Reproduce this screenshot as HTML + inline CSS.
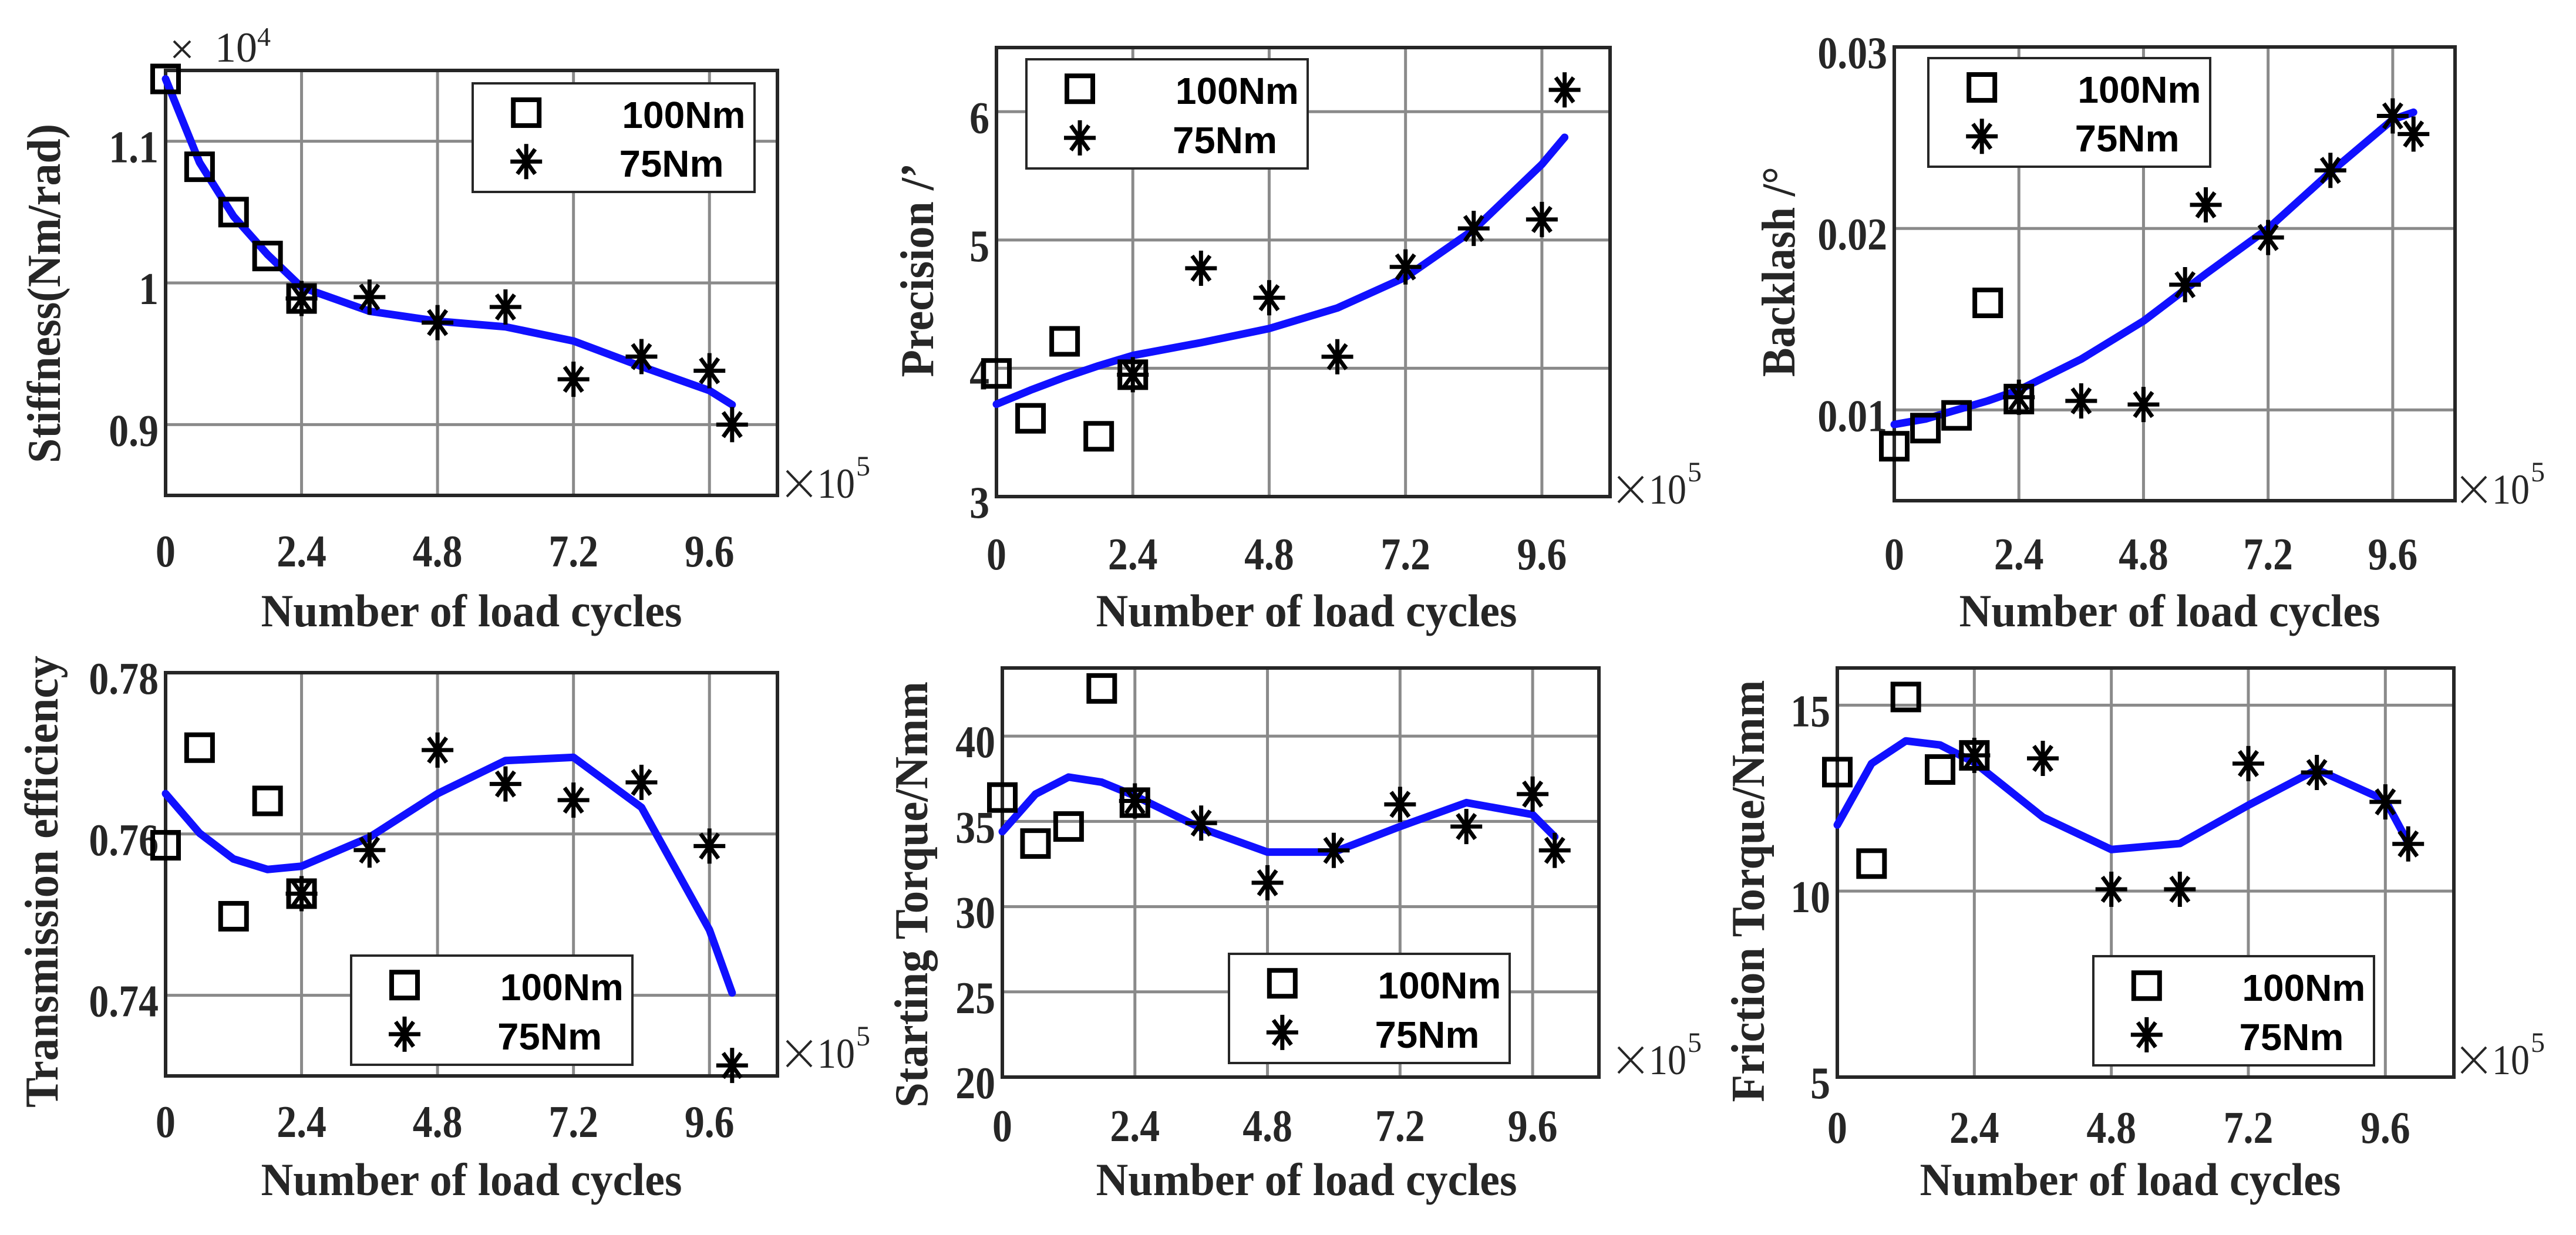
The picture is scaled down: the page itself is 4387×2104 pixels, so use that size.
<!DOCTYPE html>
<html><head><meta charset="utf-8"><style>
html,body{margin:0;padding:0;background:#fff}
svg{display:block}
</style></head><body>
<svg id="fig" width="4387" height="2104" viewBox="0 0 4387 2104" xmlns="http://www.w3.org/2000/svg"></svg>
<script>
// ---- data ----
const fitX = [0,0.6,1.2,1.8,2.4,3.6,4.8,6.0,7.2,8.4,9.6,10.0];
const sqX = [0,0.6,1.2,1.8,2.4];
const starX = [2.4,3.6,4.8,6.0,7.2,8.4,9.6,10.0];
const starXBacklash = [2.4,3.6,4.8,5.6,6.0,7.2,8.4,9.6,10.0];
const xTickVals = [0,2.4,4.8,7.2,9.6];
const xTickLabels = ["0","2.4","4.8","7.2","9.6"];

const stiffSq = [1.144,1.082,1.050,1.019,0.989];
const stiffStar = [0.989,0.990,0.972,0.983,0.932,0.948,0.938,0.900];
const stiffFit = [1.144,1.085,1.047,1.020,0.997,0.980,0.973,0.969,0.959,0.941,0.924,0.914];
const stiffTicks = [0.9,1.0,1.1];
const stiffTickLabels = ["0.9","1","1.1"];

const precSq = [3.96,3.61,4.21,3.47,3.95];
const precStar = [3.95,4.78,4.55,4.09,4.79,5.09,5.16,6.17];
const precFit = [3.72,3.83,3.93,4.02,4.10,4.20,4.31,4.47,4.71,5.08,5.59,5.80];
const precTicks = [3,4,5,6];
const precTickLabels = ["3","4","5","6"];

const backSq = [0.0080,0.0090,0.0097,0.0159,0.0106];
const backStar = [0.0107,0.0105,0.0103,0.0169,0.0213,0.0195,0.0232,0.0262,0.0252];
const backFit = [0.0092,0.0095,0.0100,0.0105,0.0111,0.0128,0.0149,0.0175,0.0200,0.0231,0.0260,0.0264];
const backTicks = [0.01,0.02,0.03];
const backTickLabels = ["0.01","0.02","0.03"];

const effSq = [0.7586,0.7707,0.7498,0.7641,0.7526];
const effStar = [0.7526,0.7580,0.7704,0.7662,0.7642,0.7664,0.7585,0.7313];
const effFit = [0.7650,0.7601,0.7569,0.7556,0.7560,0.7596,0.7650,0.7691,0.7695,0.7633,0.7481,0.7403];
const effTicks = [0.74,0.76,0.78];
const effTickLabels = ["0.74","0.76","0.78"];

const startSq = [36.4,33.7,34.7,42.8,36.1];
const startStar = [36.2,34.9,31.4,33.3,36.0,34.7,36.6,33.3];
const startFit = [34.4,36.6,37.6,37.3,36.5,34.6,33.2,33.2,34.7,36.1,35.4,34.1];
const startTicks = [20,25,30,35,40];
const startTickLabels = ["20","25","30","35","40"];

const fricSq = [13.2,10.74,15.22,13.27,13.65];
const fricStar = [13.65,13.57,10.05,10.05,13.43,13.19,12.40,11.27];
const fricFit = [11.78,13.43,14.04,13.93,13.46,11.99,11.12,11.28,12.31,13.27,12.44,11.30];
const fricTicks = [5,10,15];
const fricTickLabels = ["5","10","15"];

// ---- layout ----
const NS = "http://www.w3.org/2000/svg";
const fig = document.getElementById('fig');
function mk(tag, attrs, parent){
  const e = document.createElementNS(NS, tag);
  for (const k in attrs) e.setAttribute(k, attrs[k]);
  (parent||fig).appendChild(e);
  return e;
}
function squeeze(t, f){
  const w = t.getComputedTextLength();
  if (w > 0){
    t.setAttribute('textLength', (w*f).toFixed(1));
    t.setAttribute('lengthAdjust','spacingAndGlyphs');
  }
}
const panels = [
  {id:'stiffness', L:282,R:1324,T:120,B:844, y0:0.85,y1:1.15, sq:stiffSq, st:stiffStar, stx:starX, fit:stiffFit, yt:stiffTicks, ytl:stiffTickLabels,
   ytitle:'Stiffness(Nm/rad)', yx:74, yc:500, ylen:578, xtitleY:1067, xtitleX:803, tickY:965,
   leg:[805,142,1285,327], mult:[1336,848], top:true},
  {id:'precision', L:1697,R:2742,T:81,B:846, y0:3,y1:6.5, sq:precSq, st:precStar, stx:starX, fit:precFit, yt:precTicks, ytl:precTickLabels,
   ytitle:'Precision /\u2019', yx:1561, yc:460, ylen:365, xtitleY:1067, xtitleX:2225, tickY:970,
   leg:[1748,101,2227,287], mult:[2752,858]},
  {id:'backlash', L:3226,R:4181,T:80,B:853, y0:0.005,y1:0.03, sq:backSq, st:backStar, stx:starXBacklash, fit:backFit, yt:backTicks, ytl:backTickLabels,
   ytitle:'Backlash /\u00B0', yx:3028, yc:463, ylen:358, xtitleY:1067, xtitleX:3695, tickY:970,
   leg:[3284,99,3764,284], mult:[4188,858]},
  {id:'efficiency', L:282,R:1324,T:1146,B:1833, y0:0.73,y1:0.78, sq:effSq, st:effStar, stx:starX, fit:effFit, yt:effTicks, ytl:effTickLabels,
   ytitle:'Transmission efficiency', yx:70, yc:1502, ylen:770, xtitleY:2036, xtitleX:803, tickY:1937,
   leg:[598,1628,1077,1814], mult:[1336,1819]},
  {id:'starting-torque', L:1707,R:2723,T:1138,B:1835, y0:20,y1:44, sq:startSq, st:startStar, stx:starX, fit:startFit, yt:startTicks, ytl:startTickLabels,
   ytitle:'Starting Torque/Nmm', yx:1551, yc:1524, ylen:726, xtitleY:2036, xtitleX:2225, tickY:1944,
   leg:[2093,1625,2571,1811], mult:[2752,1830]},
  {id:'friction-torque', L:3129,R:4179,T:1138,B:1835, y0:5,y1:16, sq:fricSq, st:fricStar, stx:starX, fit:fricFit, yt:fricTicks, ytl:fricTickLabels,
   ytitle:'Friction Torque/Nmm', yx:2976, yc:1518, ylen:719, xtitleY:2036, xtitleX:3628, tickY:1947,
   leg:[3565,1629,4043,1815], mult:[4188,1830]}
];
const XMAX = 10.8;
function square(g, x, y){
  return mk('rect',{x:x-22,y:y-22,width:44,height:44,fill:'none',stroke:'#000','stroke-width':8},g);
}
function star(g, x, y){
  const r = 27;
  let d = `M${x-r},${y}H${x+r}M${x},${y-r-3}V${y+r+3}`;
  const a = r*0.78;
  d += `M${x-a*0.72},${y-a}L${x+a*0.72},${y+a}M${x+a*0.72},${y-a}L${x-a*0.72},${y+a}`;
  return mk('path',{d:d,stroke:'#000','stroke-width':7,fill:'none'},g);
}
const serif = '"Liberation Serif", "Times New Roman", serif';
const sans = '"Liberation Sans", Arial, sans-serif';

panels.forEach(p=>{
  const g = mk('g',{});
  
  
  const sx = v => p.L + (v/XMAX)*(p.R-p.L);
  const sy = v => p.B - (v-p.y0)/(p.y1-p.y0)*(p.B-p.T);
  xTickVals.forEach((v,i)=>{
    if (v>0){
      const l = mk('line',{x1:sx(v),x2:sx(v),y1:p.T,y2:p.B,stroke:'#8a8a8a','stroke-width':5},g);
      
      
    }
    const t = mk('text',{x:sx(v),y:p.tickY,'text-anchor':'middle','font-family':serif,'font-weight':'bold','font-size':77,fill:'#262626'},g);
    t.textContent = xTickLabels[i];
    
    
    squeeze(t, 0.88);
  });
  p.yt.forEach((v,i)=>{
    const y = sy(v);
    if (Math.abs(y-p.T)>2 && Math.abs(y-p.B)>2){
      const l = mk('line',{x1:p.L,x2:p.R,y1:y,y2:y,stroke:'#8a8a8a','stroke-width':5},g);
      
      
    }
    const t = mk('text',{x:p.L-12,y:y+36,'text-anchor':'end','font-family':serif,'font-weight':'bold','font-size':77,fill:'#262626'},g);
    t.textContent = p.ytl[i];
    
    
    squeeze(t, 0.88);
  });
  const box = mk('rect',{x:p.L,y:p.T,width:p.R-p.L,height:p.B-p.T,fill:'none',stroke:'#262626','stroke-width':6},g);
  
  
  const pts = fitX.map((x,i)=>sx(x)+','+sy(p.fit[i])).join(' ');
  const line = mk('polyline',{points:pts,fill:'none',stroke:'#1010ff','stroke-width':13,'stroke-linejoin':'round','stroke-linecap':'round'},g);
  
  
  sqX.forEach((x,i)=>{
    const m = square(g, sx(x), sy(p.sq[i]));
    
    
  });
  p.stx.forEach((x,i)=>{
    const m = star(g, sx(x), sy(p.st[i]));
    
    
  });
  const [lx0,ly0,lx1,ly1] = p.leg;
  const lg = mk('g',{},g);
  
  
  mk('rect',{x:lx0,y:ly0,width:lx1-lx0,height:ly1-ly0,fill:'#fff',stroke:'#262626','stroke-width':4},lg);
  const w = lx1-lx0, h = ly1-ly0;
  const mx = lx0 + w*0.19;
  const r1 = ly0 + h*0.27, r2 = ly0 + h*0.72;
  const ls = square(lg, mx, r1);
  
  
  const lst = star(lg, mx, r2);
  
  
  const t1 = mk('text',{x:lx0+w*0.53,y:r1+26,'font-family':sans,'font-weight':'bold','font-size':64,fill:'#000',textLength:210,lengthAdjust:'spacingAndGlyphs'},lg);
  t1.textContent='100Nm';
  
  
  const t2 = mk('text',{x:lx0+w*0.52,y:r2+26,'font-family':sans,'font-weight':'bold','font-size':64,fill:'#000',textLength:178,lengthAdjust:'spacingAndGlyphs'},lg);
  t2.textContent='75Nm';
  
  
  const xt = mk('text',{x:p.xtitleX,y:p.xtitleY,'text-anchor':'middle','font-family':serif,'font-weight':'bold','font-size':78,fill:'#262626',textLength:717,lengthAdjust:'spacingAndGlyphs'},g);
  xt.textContent='Number of load cycles';
  
  
  const yt = mk('text',{x:0,y:0,'text-anchor':'middle','font-family':serif,'font-weight':'bold','font-size':80,fill:'#262626',textLength:p.ylen,lengthAdjust:'spacingAndGlyphs',transform:`translate(${p.yx+28},${p.yc}) rotate(-90)`},g);
  yt.textContent=p.ytitle;
  
  
  const [mx0,my0] = p.mult;
  const mg = mk('g',{},g);
  
  
  mk('path',{d:`M${mx0+4},${my0-46}L${mx0+46},${my0-2}M${mx0+46},${my0-46}L${mx0+4},${my0-2}`,stroke:'#262626','stroke-width':4,fill:'none'},mg);
  const ten = mk('text',{x:mx0+56,y:my0,'font-family':serif,'font-size':72,fill:'#262626',textLength:64,lengthAdjust:'spacingAndGlyphs'},mg);
  ten.textContent='10';
  const ex = mk('text',{x:mx0+122,y:my0-38,'font-family':serif,'font-size':48,fill:'#262626'},mg);
  ex.textContent='5';
  if (p.top){
    const yg = mk('g',{},g);
    
    
    mk('path',{d:'M296,70L324,98M324,70L296,98',stroke:'#262626','stroke-width':4,fill:'none'},yg);
    const t10 = mk('text',{x:366,y:105,'font-family':serif,'font-size':72,fill:'#262626',textLength:72,lengthAdjust:'spacingAndGlyphs'},yg);
    t10.textContent='10';
    const e4 = mk('text',{x:438,y:78,'font-family':serif,'font-size':46,fill:'#262626'},yg);
    e4.textContent='4';
  }
});
</script>
</body></html>
